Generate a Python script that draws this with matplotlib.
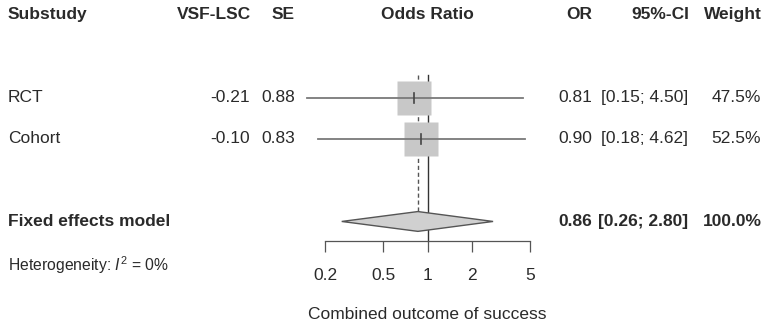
import numpy as np
import matplotlib
matplotlib.use("Agg")
import matplotlib.pyplot as plt
from matplotlib.transforms import blended_transform_factory

plt.rcParams['font.family'] = ['Liberation Sans', 'DejaVu Sans']
plt.rcParams['mathtext.fontset'] = 'custom'
plt.rcParams['mathtext.rm'] = 'Liberation Sans'
plt.rcParams['mathtext.it'] = 'Liberation Sans:italic'

# data
studies = ['RCT', 'Cohort']
vsf_lsc = [-0.21, -0.10]
se = [0.88, 0.83]
odds = [0.81, 0.90]
ci_low = [0.15, 0.18]
ci_high = [4.50, 4.62]
weights = [47.5, 52.5]

pooled_or = 0.86
pooled_low = 0.26
pooled_high = 2.80
i2 = 0

tick_vals = [0.2, 0.5, 1, 2, 5]
tick_labels = ['0.2', '0.5', '1', '2', '5']

W, H = 768, 328
fig = plt.figure(figsize=(W / 100, H / 100), dpi=100)
ax = fig.add_axes([325 / W, 0, 205 / W, 1])
ax.set_xscale('log')
ax.set_xlim(0.2, 5)
# rows: 0 header, 2-3 studies, 5 pooled
ax.set_ylim(7.58, -0.363)
ax.patch.set_visible(False)
for s in ['top', 'left', 'right']:
    ax.spines[s].set_visible(False)
ax.set_yticks([])

axis_row = 5.48
ax.spines['bottom'].set_position(('data', axis_row))
ax.spines['bottom'].set_color('#555555')
ax.spines['bottom'].set_linewidth(0.9)
ax.xaxis.set_major_locator(matplotlib.ticker.FixedLocator(tick_vals))
ax.xaxis.set_minor_locator(matplotlib.ticker.NullLocator())
ax.set_xticklabels(tick_labels)
ax.tick_params(axis='x', direction='out', length=8, width=0.9, color='#555555',
               pad=11, labelsize=12.5, labelcolor='#2a2a2a')

txt = '#2a2a2a'
fs = 12.5
rows = [2, 3]
pooled_row = 5

# reference lines
ax.plot([1, 1], [1.45, axis_row], color='#333333', lw=1.0, zorder=1)
ax.plot([pooled_or, pooled_or], [1.45, pooled_row - 0.24], color='#555555', lw=1.0,
        ls=(0, (3, 2)), zorder=1)

# study squares and CIs
for r, o, lo, hi, w in zip(rows, odds, ci_low, ci_high, weights):
    ax.plot(o, r, marker='s', ms=34.5 * np.sqrt(w / 100), color='#c8c8c8',
            mec='none', zorder=2)
    ax.plot([lo, hi], [r, r], color='#7a7a7a', lw=1.3, zorder=3, clip_on=False)
    ax.plot([o, o], [r - 0.12, r + 0.12], color='#444444', lw=1.2, zorder=4)

# pooled diamond
dx = [pooled_low, pooled_or, pooled_high, pooled_or, pooled_low]
dy = [pooled_row, pooled_row - 0.24, pooled_row, pooled_row + 0.24, pooled_row]
ax.fill(dx, dy, facecolor='#d0d0d0', edgecolor='#555555', lw=1.0, zorder=3)

# text columns
tr = blended_transform_factory(fig.transFigure, ax.transData)


def put(xpx, row, s, ha='right', bold=False, size=fs):
    fig.text(xpx / W, row, s, transform=tr, ha=ha, va='center', fontsize=size,
             color=txt, fontweight='bold' if bold else 'normal')


put(8, 0, 'Substudy', ha='left', bold=True)
put(251, 0, 'VSF-LSC', bold=True)
put(295, 0, 'SE', bold=True)
ax.text(1, 0, 'Odds Ratio', ha='center', va='center', fontsize=fs, color=txt,
        fontweight='bold')
put(592, 0, 'OR', bold=True)
put(689, 0, '95%-CI', bold=True)
put(762, 0, 'Weight', bold=True)

for r, name, v, s, o, lo, hi, w in zip(rows, studies, vsf_lsc, se, odds,
                                       ci_low, ci_high, weights):
    put(8, r, name, ha='left')
    put(250, r, f'{v:.2f}')
    put(295, r, f'{s:.2f}')
    put(592, r, f'{o:.2f}')
    put(688, r, f'[{lo:.2f}; {hi:.2f}]')
    put(761, r, f'{w:.1f}%')

put(8, pooled_row, 'Fixed effects model', ha='left', bold=True)
put(592, pooled_row, f'{pooled_or:.2f}', bold=True)
put(688, pooled_row, f'[{pooled_low:.2f}; {pooled_high:.2f}]', bold=True)
put(762, pooled_row, f'{sum(weights):.1f}%', bold=True)
put(8, 6.05, r'Heterogeneity: $\mathit{I}^2$ = ' + f'{i2}%', ha='left', size=11.3)

ax.text(1, 7.25, 'Combined outcome of success', ha='center', va='center',
        fontsize=fs, color=txt)

fig.savefig('out.png', dpi=100)
